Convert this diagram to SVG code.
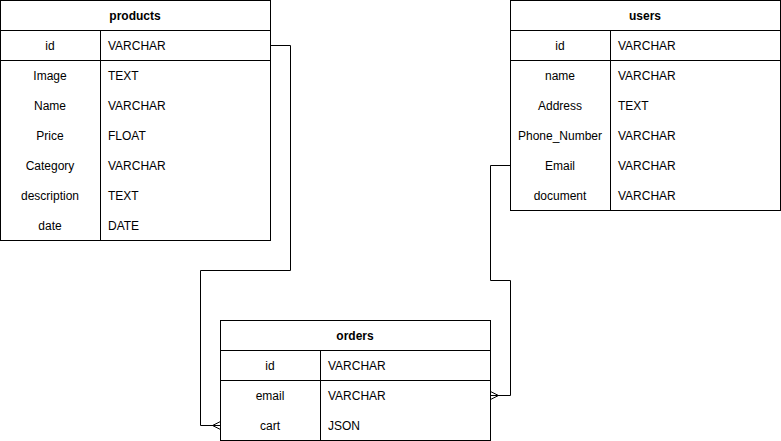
<svg xmlns="http://www.w3.org/2000/svg" width="781" height="441" viewBox="0 0 781 441">
  <style>
    .box { fill: #ffffff; stroke: #000000; stroke-width: 1; }
    .rule { stroke: #000000; stroke-width: 1; fill: none; }
    .wire { stroke: #000000; stroke-width: 1; fill: none; }
    text { font-family: "Liberation Sans", Arial, Helvetica, sans-serif; font-size: 12px; fill: #000000; dominant-baseline: central; }
    .title { font-weight: bold; text-anchor: middle; }
    .key { text-anchor: middle; }
    .type { text-anchor: start; }
  </style>
  <rect width="781" height="441" fill="#ffffff"/>

  <g id="products">
    <rect class="box" x="0.5" y="0.5" width="270" height="240"/>
    <line class="rule" x1="0.5" y1="30.5" x2="270.5" y2="30.5"/>
    <line class="rule" x1="0.5" y1="60.5" x2="270.5" y2="60.5"/>
    <line class="rule" x1="100.5" y1="30.5" x2="100.5" y2="240.5"/>
    <text class="title" x="135" y="16">products</text>
    <text class="key" x="50" y="46">id</text><text class="type" x="108" y="46">VARCHAR</text>
    <text class="key" x="50" y="76">Image</text><text class="type" x="108" y="76">TEXT</text>
    <text class="key" x="50" y="106">Name</text><text class="type" x="108" y="106">VARCHAR</text>
    <text class="key" x="50" y="136">Price</text><text class="type" x="108" y="136">FLOAT</text>
    <text class="key" x="50" y="166">Category</text><text class="type" x="108" y="166">VARCHAR</text>
    <text class="key" x="50" y="196">description</text><text class="type" x="108" y="196">TEXT</text>
    <text class="key" x="50" y="226">date</text><text class="type" x="108" y="226">DATE</text>
  </g>

  <g id="users">
    <rect class="box" x="510.5" y="0.5" width="270" height="210"/>
    <line class="rule" x1="510.5" y1="30.5" x2="780.5" y2="30.5"/>
    <line class="rule" x1="510.5" y1="60.5" x2="780.5" y2="60.5"/>
    <line class="rule" x1="610.5" y1="30.5" x2="610.5" y2="210.5"/>
    <text class="title" x="645" y="16">users</text>
    <text class="key" x="560" y="46">id</text><text class="type" x="618" y="46">VARCHAR</text>
    <text class="key" x="560" y="76">name</text><text class="type" x="618" y="76">VARCHAR</text>
    <text class="key" x="560" y="106">Address</text><text class="type" x="618" y="106">TEXT</text>
    <text class="key" x="560" y="136">Phone_Number</text><text class="type" x="618" y="136">VARCHAR</text>
    <text class="key" x="560" y="166">Email</text><text class="type" x="618" y="166">VARCHAR</text>
    <text class="key" x="560" y="196">document</text><text class="type" x="618" y="196">VARCHAR</text>
  </g>

  <g id="orders">
    <rect class="box" x="220.5" y="320.5" width="270" height="120"/>
    <line class="rule" x1="220.5" y1="350.5" x2="490.5" y2="350.5"/>
    <line class="rule" x1="220.5" y1="380.5" x2="490.5" y2="380.5"/>
    <line class="rule" x1="320.5" y1="350.5" x2="320.5" y2="440.5"/>
    <text class="title" x="355" y="336">orders</text>
    <text class="key" x="270" y="366">id</text><text class="type" x="328" y="366">VARCHAR</text>
    <text class="key" x="270" y="396">email</text><text class="type" x="328" y="396">VARCHAR</text>
    <text class="key" x="270" y="426">cart</text><text class="type" x="328" y="426">JSON</text>
  </g>

  <g id="connectors">
    <!-- products.id to orders.cart (many) -->
    <path class="wire" d="M270.5,45.5 H290.5 V270.5 H200.5 V425.5 H220.5"/>
    <path class="wire" d="M220.5,421.5 L212.5,425.5 L220.5,429.5"/>
    <!-- users.Email to orders.email (many) -->
    <path class="wire" d="M510.5,165.5 H490.5 V280.5 H510.5 V395.5 H490.5"/>
    <path class="wire" d="M490.5,391.5 L498.5,395.5 L490.5,399.5"/>
  </g>
</svg>
